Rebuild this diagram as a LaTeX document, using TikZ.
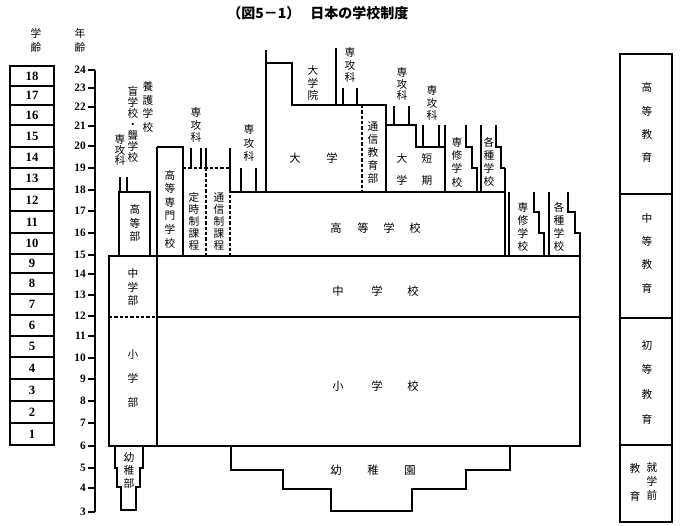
\documentclass[tikz,border=0pt]{standalone}
\usepackage{fontspec}
\setmainfont{Liberation Serif}
\newfontfamily\jp{Noto Sans CJK JP}
\begin{document}
\begin{tikzpicture}[x=0.75pt,y=-0.75pt,
  ln/.style={line width=0.9pt, line join=miter},
  dsh/.style={line width=0.9pt, dash pattern=on 2.4pt off 1.6pt},
  vt/.style={align=center, inner sep=0pt, font=\jp\fontsize{8}{#1}\selectfont},
  ht/.style={inner sep=0pt, font=\jp\fontsize{8.5}{10}\selectfont},
  gnum/.style={inner sep=0pt, font=\bfseries\fontsize{9.5}{10}\selectfont},
  anum/.style={inner sep=0pt, anchor=east, font=\bfseries\fontsize{8.5}{10}\selectfont}]
\useasboundingbox (0,0) rectangle (688,525);

% title
\node[anchor=west, inner sep=0pt, font=\jp\bfseries\fontsize{10.5}{12}\selectfont] (title1) at (227,13) {（図5－1）};
\node[anchor=west, inner sep=0pt, font=\jp\bfseries\fontsize{10.5}{12}\selectfont] (title2) at (310,13) {日本の学校制度};

% headers
\node[vt=10.5] (hgr) at (36,40) {学\\齢};
\node[vt=10.5] (hag) at (80,40) {年\\齢};

% grade boxes
\foreach \n/\a/\b in {18/66/86,17/86/105,16/105/125,15/125/147,14/147/168,13/168/189,12/189/211,11/211/233,10/233/254,9/254/273,8/273/294,7/294/315,6/315/336,5/336/357,4/357/379,3/379/401,2/401/423,1/423/445}{
  \draw[ln] (10,\a) rectangle (54,\b);
  \node[gnum] (g\n) at (32,{(\a+\b)/2}) {\n};
}

% age axis
\draw[ln] (95,70) -- (95,512);
\foreach \a/\y in {24/70,23/88,22/107,21/126,20/146,19/168,18/190,17/211,16/233,15/255,14/274,13/295,12/316,11/336,10/358,9/379,8/401,7/423,6/446,5/468,4/488,3/512}{
  \draw[ln] (88,\y) -- (95,\y);
  \node[anum] (a\a) at (86,\y) {\a};
}

% main frame: middle + primary
\draw[ln] (109,256) rectangle (580,446);
\draw[ln] (157,147) -- (157,446);
\draw[ln] (157,317) -- (580,317);
\draw[dsh] (109,317) -- (157,317);

% special school upper secondary
\draw[ln] (119,256) -- (119,192) -- (150,192) -- (150,256);
\draw[ln] (120,177) -- (120,192);
\draw[ln] (127,177) -- (127,192);

% kosen
\draw[ln] (157,147) -- (183,147) -- (183,256);

% part-time / correspondence
\draw[dsh] (183,168) -- (230,168);
\draw[dsh] (206,168) -- (206,256);
\draw[dsh] (230,168) -- (230,256);
\draw[ln] (191,148) -- (191,168);
\draw[ln] (201,148) -- (201,168);
\draw[ln] (206,148) -- (206,168);
\draw[ln] (230,148) -- (230,192);

% high school
\draw[ln] (230,192) -- (505,192);
\draw[ln] (505,168) -- (505,256);
\draw[ln] (241,168) -- (241,192);
\draw[ln] (256,168) -- (256,192);

% university
\draw[ln] (266,50) -- (266,192);
\draw[ln] (266,63) -- (292,63) -- (292,105) -- (386,105) -- (386,192);
\draw[dsh] (362,105) -- (362,192);
\draw[ln] (336,48) -- (336,105);
\draw[ln] (343,88) -- (343,105);
\draw[ln] (357,88) -- (357,105);

% junior college
\draw[ln] (386,125) -- (416,125) -- (416,147) -- (445,147);
\draw[ln] (394,106) -- (394,125);
\draw[ln] (409,106) -- (409,125);
\draw[ln] (423,125) -- (423,147);
\draw[ln] (439,125) -- (439,147);

% upper senshu / kakushu
\draw[ln] (445,125) -- (445,192);
\draw[ln] (466,125) -- (466,147) -- (472,147) -- (472,168) -- (477,168) -- (477,192);
\draw[ln] (481,125) -- (481,192);
\draw[ln] (496,125) -- (496,147) -- (501,147) -- (501,168) -- (505,168);

% lower senshu / kakushu
\draw[ln] (509,192) -- (509,256);
\draw[ln] (534,192) -- (534,212) -- (539,212) -- (539,233) -- (544,233) -- (544,256);
\draw[ln] (549,192) -- (549,256);
\draw[ln] (568,192) -- (568,212) -- (575,212) -- (575,233) -- (580,233) -- (580,256);

% kindergartens
\draw[ln] (115,446) -- (115,468) -- (117,468) -- (117,487) -- (121,487) -- (121,510) -- (136,510) -- (136,487) -- (140,487) -- (140,468) -- (143,468) -- (143,446);
\draw[ln] (231,446) -- (231,470) -- (283,470) -- (283,489) -- (331,489) -- (331,511) -- (412,511) -- (412,489) -- (466,489) -- (466,470) -- (510,470) -- (510,446);

% right column
\draw[ln] (620,54) rectangle (672,522);
\draw[ln] (620,194) -- (672,194);
\draw[ln] (620,318) -- (672,318);
\draw[ln] (620,445) -- (672,445);

% vertical labels
\node[vt=7.6] (sk1) at (120,150) {専\\攻\\科};
\node[vt=8.2] (mou) at (133,124.5) {盲\\学\\校\\・\\聾\\学\\校};
\node[vt=10.4] (you) at (148,107) {養\\護\\学\\校};
\node[vt=10] (kotobu) at (135,223) {高\\等\\部};
\node[vt=10.2] (kosen) at (170,209) {高\\等\\専\\門\\学\\校};
\node[vt=9.4] (sk2) at (196,125) {専\\攻\\科};
\node[vt=9] (teiji) at (194,221.5) {定\\時\\制\\課\\程};
\node[vt=9] (tsushin) at (219,221.5) {通\\信\\制\\課\\程};
\node[vt=10] (sk3) at (249,143) {専\\攻\\科};
\node[vt=9.4] (daigakuin) at (313,83) {大\\学\\院};
\node[vt=9.4] (sk4) at (350,65) {専\\攻\\科};
\node[ht] (dai1) at (295,158) {大};
\node[ht] (dai2) at (332,158) {学};
\node[vt=9.75] (tsukyo) at (373,153) {通\\信\\教\\育\\部};
\node[vt=8.6] (sk5) at (402,84) {専\\攻\\科};
\node[vt=9.4] (sk6) at (432,103) {専\\攻\\科};
\node[vt=16.5] (tan1) at (402,169) {大\\学};
\node[vt=16.5] (tan2) at (427,169) {短\\期};
\node[vt=10] (senshu1) at (457,162) {専\\修\\学\\校};
\node[vt=9.75] (kaku1) at (489,162) {各\\種\\学\\校};
\node[vt=9.75] (senshu2) at (523,226.5) {専\\修\\学\\校};
\node[vt=9.75] (kaku2) at (559,226.5) {各\\種\\学\\校};
\node[vt=10] (chugakubu) at (133,287) {中\\学\\部};
\node[vt=18] (shogakubu) at (133,379) {小\\学\\部};
\node[vt=9.75] (youchibu) at (129,470) {幼\\稚\\部};

% horizontal labels
\node[ht] (ko1) at (336,228) {高};
\node[ht] (ko2) at (363,228) {等};
\node[ht] (ko3) at (389,228) {学};
\node[ht] (ko4) at (415,228) {校};
\node[ht] (ch1) at (338,291) {中};
\node[ht] (ch2) at (377,291) {学};
\node[ht] (ch3) at (413,291) {校};
\node[ht] (sh1) at (338,386) {小};
\node[ht] (sh2) at (377,386) {学};
\node[ht] (sh3) at (413,386) {校};
\node[ht] (yo1) at (336,470) {幼};
\node[ht] (yo2) at (373,470) {稚};
\node[ht] (yo3) at (410,470) {園};

% right column labels
\node[vt=17.3] (koto) at (647,122.5) {高\\等\\教\\育};
\node[vt=17.5] (chuto) at (647,253) {中\\等\\教\\育};
\node[vt=18.5] (shoto) at (647,382) {初\\等\\教\\育};
\node[vt=10.5] (shu1) at (652,481) {就\\学\\前};
\node[vt=21] (shu2) at (635,482) {教\\育};
\end{tikzpicture}
\end{document}
